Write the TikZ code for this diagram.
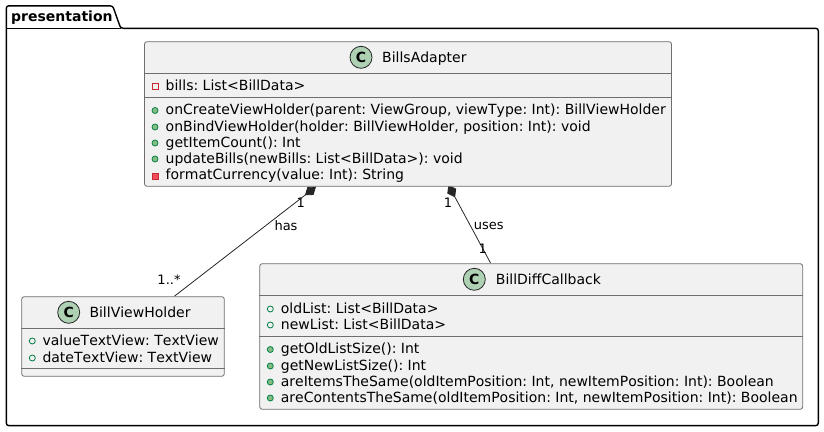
\documentclass[tikz,border=0pt]{standalone}
\usepackage{fontspec}
\setmainfont[Kerning=Off]{DejaVu Sans}
\usepackage{xcolor}
\usetikzlibrary{arrows.meta,backgrounds}
\definecolor{boxfill}{HTML}{F1F1F1}
\definecolor{boxline}{HTML}{6E6E6E}
\definecolor{spotfill}{HTML}{ADD1B2}
\definecolor{publine}{HTML}{038048}
\definecolor{pubfill}{HTML}{84BE84}
\definecolor{privline}{HTML}{C82930}
\definecolor{privfill}{HTML}{F24D5C}
\tikzset{
    classbox/.style={rectangle,rounded corners=2.5pt,draw=boxline,fill=boxfill,line width=0.8pt,inner sep=0pt},
    divider/.style={draw=boxline,line width=0.8pt},
    spot/.style={circle,draw=black!85,fill=spotfill,line width=0.8pt,minimum size=22pt,inner sep=0pt,font=\fontsize{14}{14}\bfseries\selectfont},
    classname/.style={anchor=base west,inner sep=0pt,font=\frenchspacing\fontsize{14}{14}\selectfont},
    member/.style={anchor=base west,inner sep=0pt,font=\frenchspacing\fontsize{14}{14}\selectfont},
    linklabel/.style={inner sep=0pt,font=\fontsize{13}{13}\selectfont},
    pubfield/.style={circle,draw=publine,fill=none,line width=0.8pt,minimum size=6pt,inner sep=0pt},
    pubmethod/.style={circle,draw=publine,fill=pubfill,line width=0.8pt,minimum size=6pt,inner sep=0pt},
    privfield/.style={rectangle,draw=privline,fill=none,line width=0.8pt,minimum size=6pt,inner sep=0pt},
    privmethod/.style={rectangle,draw=privline,fill=privfill,line width=0.8pt,minimum size=6pt,inner sep=0pt},
    compose/.style={{Diamond[length=14pt,width=10pt]}-, draw=black!85, line width=0.8pt}
}

\begin{document}
\begin{tikzpicture}[x=1pt,y=-1pt]
    \useasboundingbox (0,0) rectangle (824,431);
    % package frame
    \draw[line width=1.4pt,black,rounded corners=2.5pt] (6.3,28.3) -- (6.3,5.8) -- (112.7,5.8) -- (120.7,28.3) -- (818.3,28.3) -- (818.3,425.6) -- (6.3,425.6) -- cycle;
    \draw[line width=1.4pt,black] (6.3,28.3) -- (120.7,28.3);
    \draw (11,21) node[anchor=base west,inner sep=0pt,font=\fontsize{14}{14}\bfseries\selectfont] (presentation) {presentation};

    % BillsAdapter
    \draw (408,114) node[classbox,minimum width=527pt,minimum height=144.6pt] (adapter) {};
    \draw[divider] ([yshift=-31.8pt]adapter.north west) -- ([yshift=-31.8pt]adapter.north east);
    \draw[divider] ([yshift=-56pt]adapter.north west) -- ([yshift=-56pt]adapter.north east);
    \draw (361,57.3) node[spot] (adapterspot) {C};
    \draw (382,62.5) node[classname] (adaptername) {BillsAdapter};
    \draw (155,86.5) node[privfield] (billsicon) {};
    \draw (165.5,90) node[member] (bills) {bills: List<BillData>};
    \draw (155,110.5) node[pubmethod] (createicon) {};
    \draw (165.5,114.5) node[member] (create) {onCreateViewHolder(parent: ViewGroup, viewType: Int): BillViewHolder};
    \draw (155,127) node[pubmethod] (bindicon) {};
    \draw (165.5,131) node[member] (bind) {onBindViewHolder(holder: BillViewHolder, position: Int): void};
    \draw (155,143) node[pubmethod] (counticon) {};
    \draw (165.5,147) node[member] (count) {getItemCount(): Int};
    \draw (155,159) node[pubmethod] (updateicon) {};
    \draw (165.5,163) node[member] (update) {updateBills(newBills: List<BillData>): void};
    \draw (155,176) node[privmethod] (formaticon) {};
    \draw (165.5,179) node[member] (format) {formatCurrency(value: Int): String};

    % BillViewHolder
    \draw (123,336.5) node[classbox,minimum width=202.6pt,minimum height=79.6pt] (holder) {};
    \draw[divider] ([yshift=-31.6pt]holder.north west) -- ([yshift=-31.6pt]holder.north east);
    \draw[divider] ([yshift=-71.6pt]holder.north west) -- ([yshift=-71.6pt]holder.north east);
    \draw (68.7,312.3) node[spot] (holderspot) {C};
    \draw (89.3,317.5) node[classname] (holdername) {BillViewHolder};
    \draw (32.3,341) node[pubfield] (valueicon) {};
    \draw (42.3,345) node[member] (value) {valueTextView: TextView};
    \draw (32.3,358) node[pubfield] (dateicon) {};
    \draw (42.3,362) node[member] (date) {dateTextView: TextView};

    % BillDiffCallback
    \draw (531.2,336.5) node[classbox,minimum width=543pt,minimum height=145.6pt] (callback) {};
    \draw[divider] ([yshift=-32pt]callback.north west) -- ([yshift=-32pt]callback.north east);
    \draw[divider] ([yshift=-72.6pt]callback.north west) -- ([yshift=-72.6pt]callback.north east);
    \draw (474.3,279.3) node[spot] (callbackspot) {C};
    \draw (495.7,284.5) node[classname] (callbackname) {BillDiffCallback};
    \draw (270.3,309) node[pubfield] (oldicon) {};
    \draw (280.7,313) node[member] (old) {oldList: List<BillData>};
    \draw (270.3,325) node[pubfield] (newicon) {};
    \draw (280.7,329) node[member] (new) {newList: List<BillData>};
    \draw (270.3,349.5) node[pubmethod] (oldsizeicon) {};
    \draw (280.7,353.5) node[member] (oldsize) {getOldListSize(): Int};
    \draw (270.3,366) node[pubmethod] (newsizeicon) {};
    \draw (280.7,370) node[member] (newsize) {getNewListSize(): Int};
    \draw (270.3,382) node[pubmethod] (itemsicon) {};
    \draw (280.7,386) node[member] (items) {areItemsTheSame(oldItemPosition: Int, newItemPosition: Int): Boolean};
    \draw (270.3,398) node[pubmethod] (contentsicon) {};
    \draw (280.7,402) node[member] (contents) {areContentsTheSame(oldItemPosition: Int, newItemPosition: Int): Boolean};

    % links, behind the boxes
    \begin{scope}[on background layer]
    \draw[compose] ([xshift=-92pt]adapter.south) -- ([xshift=51.3pt]holder.north);
    \draw[compose] ([xshift=40.4pt,yshift=1.7pt]adapter.south) -- ([xshift=-40.5pt]callback.north);
    \end{scope}
    \draw (300.7,202.7) node[linklabel] (adapterone) {1};
    \draw (286,225.7) node[linklabel] (has) {has};
    \draw (169,280) node[linklabel] (many) {1..*};
    \draw (448,202.7) node[linklabel] (adaptertwo) {1};
    \draw (488.7,225.7) node[linklabel] (uses) {uses};
    \draw (482.7,248.3) node[linklabel] (callbackone) {1};
\end{tikzpicture}
\end{document}
